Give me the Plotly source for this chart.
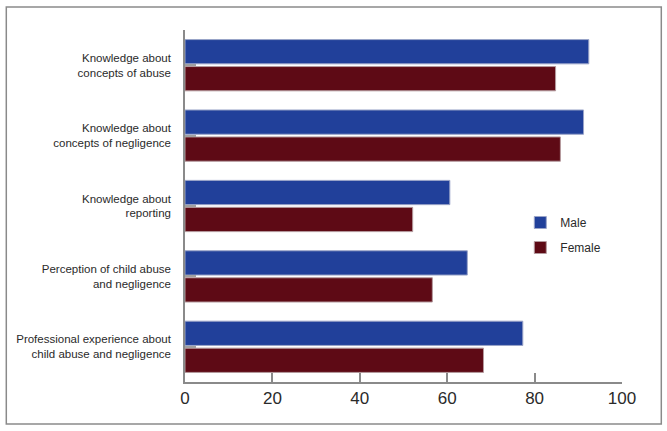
import plotly.graph_objects as go

categories = [
    "Knowledge about<br>concepts of abuse",
    "Knowledge about<br>concepts of negligence",
    "Knowledge about<br>reporting",
    "Perception of child abuse<br>and negligence",
    "Professional experience about<br>child abuse and negligence",
]
male = [92.4, 91.2, 60.6, 64.6, 77.3]
female = [84.8, 85.9, 52.1, 56.6, 68.3]
x_ticks = [0, 20, 40, 60, 80, 100]

fig = go.Figure()
fig.add_trace(go.Bar(
    y=categories, x=male, orientation="h", name="Male",
    marker=dict(color="#21409A", line=dict(color="#9aa4c8", width=1)),
    legendgroup="m",
))
fig.add_trace(go.Bar(
    y=categories, x=female, orientation="h", name="Female",
    marker=dict(color="#5E0A15", line=dict(color="#b49a9e", width=1)),
    legendgroup="f",
))

L, R, T, B = 184.7, 621.7, 30, 382
W, H = 667, 431
pw, ph = R - L, B - T

def px_x(p):
    return (p - L) / pw

def px_y(p):
    return (B - p) / ph

fig.update_layout(
    width=W, height=H,
    margin=dict(l=L, r=W - R, t=T, b=H - B, pad=0),
    paper_bgcolor="white", plot_bgcolor="white",
    font=dict(family="Liberation Sans, Arial, sans-serif", color="#2a2a2a"),
    barmode="group", bargap=0.234, bargroupgap=0.1,
    showlegend=True,
    legend=dict(
        x=px_x(520), y=px_y(208), xanchor="left", yanchor="top",
        font=dict(size=12, color="#2a2a2a"),
        traceorder="grouped", tracegroupgap=6,
        bgcolor="rgba(0,0,0,0)",
    ),
    xaxis=dict(
        range=[0, 100], tickvals=x_ticks, ticktext=[str(v) for v in x_ticks],
        showgrid=False, zeroline=False,
        showline=True, linecolor="#8a8a8a", linewidth=1.5,
        ticks="inside", ticklen=9, tickcolor="#8a8a8a", tickwidth=1.5,
        tickfont=dict(size=17, color="#2a2a2a"),
    ),
    yaxis=dict(
        autorange="reversed", showgrid=False, zeroline=False,
        showline=True, linecolor="#8a8a8a", linewidth=1.5,
        ticks="inside", ticklen=11, tickcolor="#a0a0a0", tickwidth=1.5,
        tickfont=dict(size=11.5, color="#2a2a2a"),
        ticklabelstandoff=10,
    ),
    shapes=[dict(
        type="rect", xref="paper", yref="paper",
        x0=px_x(6), x1=px_x(661), y0=px_y(424), y1=px_y(7),
        line=dict(color="#8a8a8a", width=1.5), fillcolor="rgba(0,0,0,0)",
        layer="below",
    )],
)

fig.write_html(
    "out.html",
    config={"displayModeBar": False},
    post_script="document.body.style.margin='0';document.body.style.padding='0';",
)
